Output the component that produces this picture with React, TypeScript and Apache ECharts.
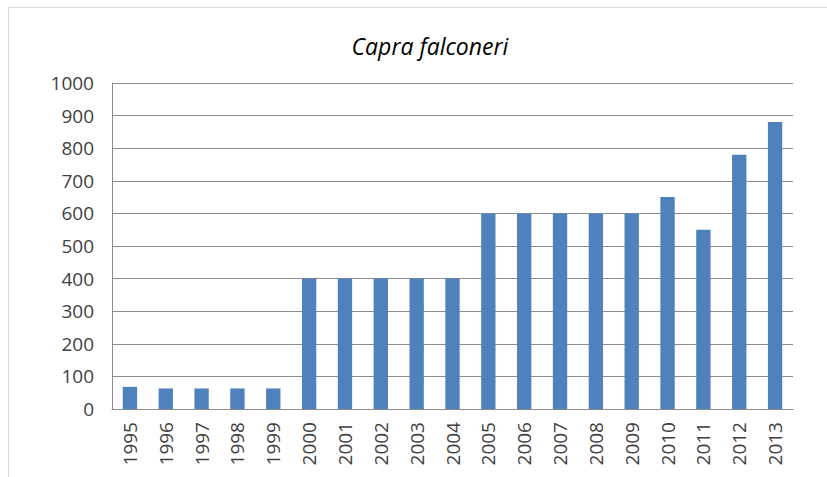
import React, { useEffect, useRef } from "react";
import * as echarts from "echarts";

const years = ["1995","1996","1997","1998","1999","2000","2001","2002","2003","2004","2005","2006","2007","2008","2009","2010","2011","2012","2013"];
const counts = [68, 63, 63, 63, 63, 400, 400, 400, 400, 400, 600, 600, 600, 600, 600, 650, 550, 780, 880];
const title = "Capra falconeri";

export default function App() {
  const ref = useRef<HTMLDivElement>(null);
  useEffect(() => {
    if (!ref.current) return;
    const chart = echarts.init(ref.current, null, { renderer: "svg" });
    const font = "'Open Sans', 'Liberation Sans', sans-serif";
    chart.setOption({
      animation: false,
      backgroundColor: "#ffffff",
      title: {
        text: title,
        left: 425,
        textAlign: "center",
        top: 29,
        textStyle: { fontFamily: font, fontStyle: "italic", fontWeight: "normal", fontSize: 23, color: "#000000" },
      },
      graphic: [
        { type: "rect", shape: { x: 8.5, y: 7.5, width: 840, height: 500 }, style: { fill: "none", stroke: "#d9d9d9", lineWidth: 1 }, silent: true },
      ],
      grid: { left: 112, right: 34, top: 83, bottom: 68 },
      xAxis: {
        type: "category",
        data: years,
        axisLine: { show: true, lineStyle: { color: "#8c8c8c", width: 1 } },
        axisTick: { show: false },
        axisLabel: { rotate: 90, margin: 13, fontFamily: font, fontSize: 19, color: "#404040", interval: 0 },
      },
      yAxis: {
        type: "value",
        min: 0,
        max: 1000,
        interval: 100,
        axisLine: { show: true, lineStyle: { color: "#8c8c8c", width: 1 } },
        axisTick: { show: false },
        splitLine: { lineStyle: { color: "#8c8c8c", width: 1 } },
        axisLabel: { margin: 18, fontFamily: font, fontSize: 19, color: "#404040", formatter: (v: number) => String(v) },
      },
      series: [
        {
          type: "bar",
          data: counts,
          barWidth: "40%",
          itemStyle: { color: "#4f81bd" },
        },
      ],
    });
    return () => chart.dispose();
  }, []);
  return <div ref={ref} style={{ position: "absolute", left: 0, top: 0, width: 827, height: 477 }} />;
}
